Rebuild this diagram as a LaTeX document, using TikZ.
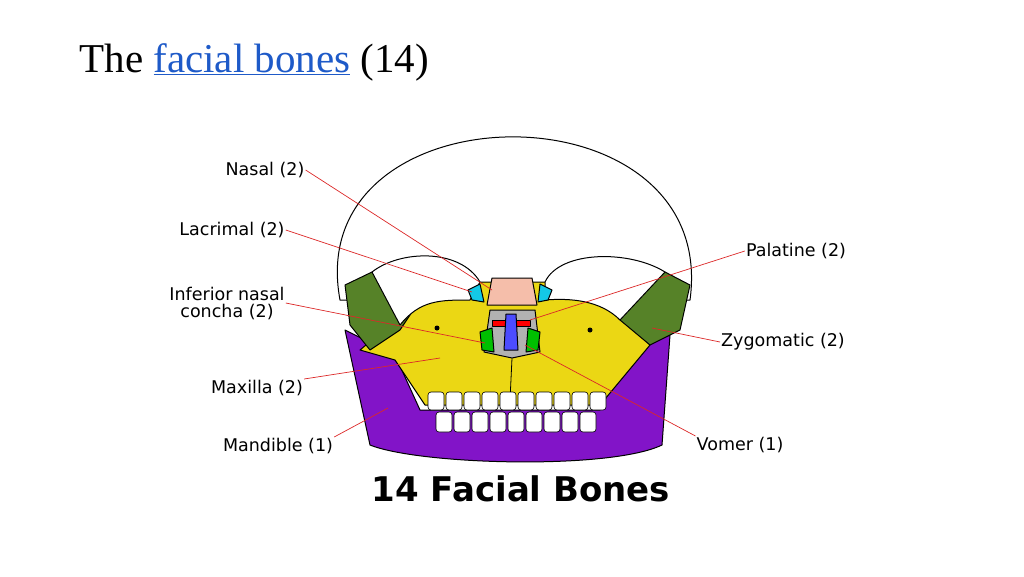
\documentclass[tikz,border=0pt]{standalone}
\usepackage{fontspec}
\setmainfont{Liberation Serif}
\newfontfamily\labelfont{DejaVu Sans}
\usetikzlibrary{positioning}
\definecolor{bonegreen}{RGB}{86,130,40}
\definecolor{boneyellow}{RGB}{235,215,20}
\definecolor{bonepurple}{RGB}{130,20,200}
\definecolor{bonepink}{RGB}{245,190,170}
\definecolor{bonecyan}{RGB}{20,200,230}
\definecolor{linkblue}{RGB}{30,90,200}
\definecolor{pointer}{RGB}{220,40,40}
\begin{document}
\begin{tikzpicture}[x=1pt, y=-1pt, line join=round,
    lbl/.style={font=\labelfont\fontsize{17.5}{19}\selectfont, align=center, inner sep=1pt},
    ptr/.style={draw=pointer, line width=0.7pt},
    bone/.style={draw=black, line width=1pt}]
    \useasboundingbox (0,0) rectangle (1024,576);
    % titre
    \node[anchor=west, font=\fontsize{41}{44}\selectfont] (title) at (76,62)
        {The \textcolor{linkblue}{\underline{facial bones}} (14)};

    % crâne
    \draw[bone, fill=white] (340,300) .. controls (300,85) and (720,80) .. (690,300) -- cycle;
    \draw[bone, fill=bonepurple] (345,330) -- (370,445) .. controls (420,465) and (610,470) .. (662,445) -- (670,335) -- (630,350) -- (600,410) -- (420,410) -- (395,355) -- cycle;
    \draw[bone, fill=boneyellow] (360,350) -- (420,300) -- (478,282) -- (545,282) -- (610,300) -- (650,345) -- (600,405) -- (425,405) -- (395,360) -- cycle;
    \draw[bone, fill=bonegreen] (345,285) -- (372,272) -- (420,300) -- (400,330) -- (370,350) -- (350,325) -- cycle;
    \draw[bone, fill=bonegreen] (600,290) -- (665,272) -- (690,285) -- (680,330) -- (650,345) -- (620,320) -- cycle;
    % orbites
    \draw[bone, fill=white] (372,272) .. controls (400,250) and (460,248) .. (480,282) -- (470,300) .. controls (440,300) and (420,300) .. (400,325) -- cycle;
    \draw[bone, fill=white] (545,282) .. controls (560,250) and (630,250) .. (665,272) -- (620,320) .. controls (600,300) and (570,298) .. (545,300) -- cycle;
    % nez
    \draw[bone, fill=bonepink] (492,278) -- (532,278) -- (537,305) -- (487,305) -- cycle;
    \draw[bone, fill=bonecyan] (468,290) -- (480,284) -- (484,302) -- (472,300) -- cycle;
    \draw[bone, fill=bonecyan] (540,284) -- (552,290) -- (548,300) -- (538,302) -- cycle;
    \draw[bone, fill=gray!60] (490,310) -- (535,310) -- (540,352) -- (512,358) -- (484,352) -- cycle;
    \draw[bone, fill=red] (492,320) -- (530,320) -- (530,326) -- (492,326) -- cycle;
    \draw[bone, fill=blue!70] (506,314) -- (516,314) -- (518,350) -- (504,350) -- cycle;
    \draw[bone, fill=green!75!black] (480,332) -- (492,328) -- (494,352) -- (482,350) -- cycle;
    \draw[bone, fill=green!75!black] (528,328) -- (540,332) -- (538,350) -- (526,352) -- cycle;
    \draw[line width=0.8pt] (512,358) -- (510,400);
    \fill (437,328) circle (2.5);
    \fill (590,330) circle (2.5);
    % dents
    \foreach \x in {428,446,464,482,500,518,536,554,572,590}
        \draw[bone, fill=white, line width=0.6pt, rounded corners=3] (\x,392) rectangle ++(16,18);
    \foreach \x in {436,454,472,490,508,526,544,562,580}
        \draw[bone, fill=white, line width=0.6pt, rounded corners=3] (\x,412) rectangle ++(16,20);

    % étiquettes
    \node[lbl] (nasal) at (265,170) {Nasal (2)};
    \node[lbl] (lacrimal) at (232,230) {Lacrimal (2)};
    \node[lbl, font=\labelfont\fontsize{17.5}{17}\selectfont] (concha) at (227,303) {Inferior nasal\\concha (2)};
    \node[lbl] (maxilla) at (257,388) {Maxilla (2)};
    \node[lbl] (mandible) at (278,446) {Mandible (1)};
    \node[lbl] (palatine) at (796,251) {Palatine (2)};
    \node[lbl] (zygomatic) at (783,342) {Zygomatic (2)};
    \node[lbl] (vomer) at (740,445) {Vomer (1)};
    \node[font=\labelfont\bfseries\fontsize{34}{36}\selectfont] (caption) at (521,489) {14 Facial Bones};

    % repères
    \coordinate (pnasal) at (492,290);
    \coordinate (placrimal) at (472,292);
    \coordinate (pconcha) at (485,343);
    \coordinate (pmaxilla) at (440,358);
    \coordinate (pmandible) at (388,408);
    \coordinate (ppalatine) at (530,320);
    \coordinate (pzygomatic) at (652,328);
    \coordinate (pvomer) at (525,345);

    \draw[ptr] (nasal.east) -- (pnasal);
    \draw[ptr] (lacrimal.east) -- (placrimal);
    \draw[ptr] (concha.east) -- (pconcha);
    \draw[ptr] (maxilla.north east) -- (pmaxilla);
    \draw[ptr] (mandible.north east) -- (pmandible);
    \draw[ptr] (palatine.west) -- (ppalatine);
    \draw[ptr] (zygomatic.west) -- (pzygomatic);
    \draw[ptr] (vomer.north west) -- (pvomer);
\end{tikzpicture}
\end{document}
